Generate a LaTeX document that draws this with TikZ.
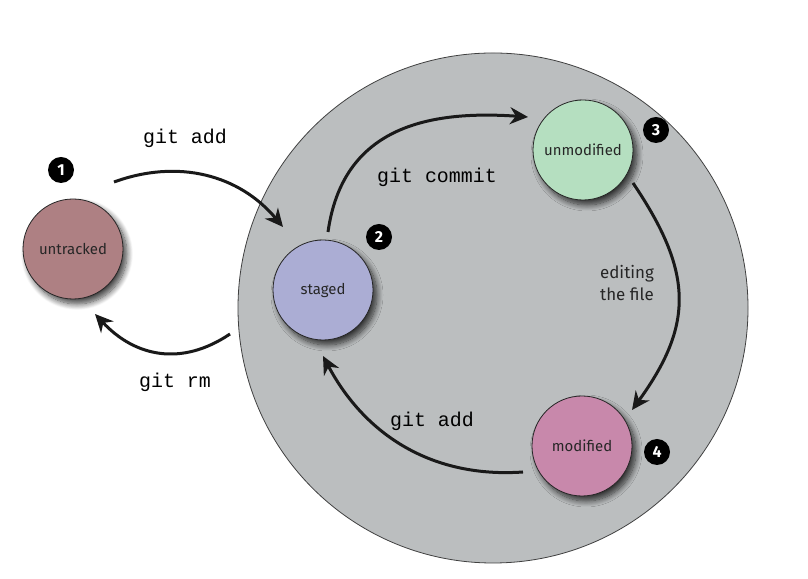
\documentclass[tikz,border=0pt]{standalone}
\usepackage{fontspec}
\setmainfont{Fira Sans}
\setmonofont{Liberation Mono}
\usetikzlibrary{arrows.meta}
\usetikzlibrary{shadows.blur}

\definecolor{repogray}{RGB}{187,190,191}
\definecolor{untrackedc}{RGB}{174,128,131}
\definecolor{stagedc}{RGB}{171,173,212}
\definecolor{unmodc}{RGB}{181,223,192}
\definecolor{modc}{RGB}{200,136,171}

\begin{document}
\begin{tikzpicture}[x=1bp, y=1bp,
    state/.style={circle, draw=black!85, line width=0.8bp, minimum size=100bp, inner sep=0pt,
        text=black!85, font=\fontsize{15}{17}\selectfont,
        blur shadow={shadow xshift=4bp, shadow yshift=-5bp, shadow blur radius=6bp,
            shadow blur steps=10, shadow opacity=75}},
    badge/.style={circle, fill=black, text=white, minimum size=26bp, inner sep=0pt,
        font=\bfseries\fontsize{16}{16}\selectfont},
    flow/.style={line width=3bp, draw=black!90, -{Stealth[length=18bp, width=17bp]}},
    cmd/.style={font=\ttfamily\fontsize{20}{24}\selectfont}]

    \useasboundingbox (0,0) rectangle (808,579);

    % Repository
    \node[circle, draw=black!75, line width=0.8bp, fill=repogray, minimum size=510bp] (repo) at (493,271) {};

    % File states
    \node[state, fill=untrackedc] (untracked)  at (73,330)  {untracked};
    \node[state, fill=stagedc]    (staged)     at (323,289) {staged};
    \node[state, fill=unmodc]     (unmodified) at (583,429) {unmodified};
    \node[state, fill=modc]       (modified)   at (582,133) {modified};

    % Numbers
    \node[badge] (n1) at (61,409)  {1};
    \node[badge] (n2) at (379,342) {2};
    \node[badge] (n3) at (656,449) {3};
    \node[badge] (n4) at (657,127) {4};

    % Arrow ends, placed around the states
    \coordinate (addout)    at ([shift={(41,67)}]untracked);
    \coordinate (addin)     at ([shift={(-40,63)}]staged);
    \coordinate (commitout) at ([shift={(5,58)}]staged);
    \coordinate (commitin)  at ([shift={(-55,33)}]unmodified);
    \coordinate (editout)   at ([shift={(50,-33)}]unmodified);
    \coordinate (editin)    at ([shift={(50,36)}]modified);
    \coordinate (readdout)  at ([shift={(-59,-26)}]modified);
    \coordinate (readdin)   at ([shift={(0,-66)}]staged);
    \coordinate (rmout)     at ([shift={(-263,-26)}]repo);
    \coordinate (rmin)      at ([shift={(22,-65)}]untracked);

    % Transitions
    \draw[flow] (addout) to[out=20, in=130] (addin);
    \draw[flow] (commitout) to[out=82, in=176, looseness=1.15] (commitin);
    \draw[flow] (editout) to[out=-56, in=54, looseness=1.2] (editin);
    \draw[flow] (readdout) to[out=184, in=-62] (readdin);
    \draw[flow] (rmout) to[out=214, in=-47, looseness=1.1] (rmin);

    % Labels
    \node[cmd] (addtop) at (185,441) {git add};
    \node[cmd] (commit) at (437,402) {git commit};
    \node[cmd] (addbot) at (432,158) {git add};
    \node[cmd] (rm)     at (175,197) {git rm};
    \node[align=center, text=black!85, font=\fontsize{17}{23}\selectfont] (edit) at (627,296) {editing\\the file};

\end{tikzpicture}
\end{document}
